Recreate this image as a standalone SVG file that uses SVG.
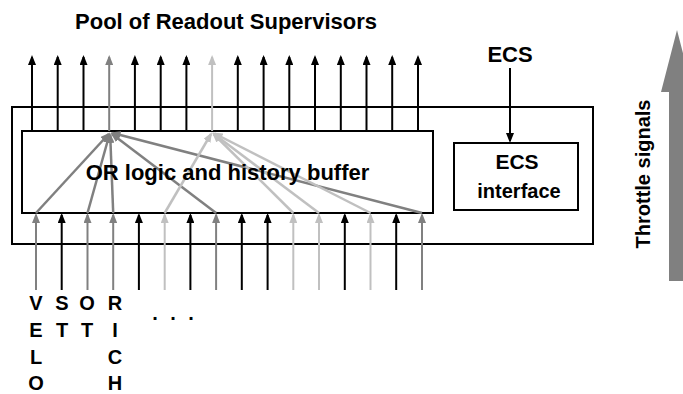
<svg xmlns="http://www.w3.org/2000/svg" width="683" height="394" viewBox="0 0 683 394">
<style>
.t{font-family:"Liberation Sans",Arial,sans-serif;font-weight:bold;fill:#000;}
.box{fill:#fff;stroke:#000;stroke-width:2;}
.k{stroke:#000;stroke-width:2;fill:none;}
.g{stroke:#808080;stroke-width:2.5;fill:none;}
.l{stroke:#c0c0c0;stroke-width:2.5;fill:none;}
.ka{marker-end:url(#ak);}
.ga{marker-end:url(#ag);}
.la{marker-end:url(#al);}
</style>
<defs>
<marker id="ak" markerUnits="userSpaceOnUse" markerWidth="10" markerHeight="8" refX="8" refY="4" orient="auto"><path d="M0,0 L10,4 L0,8 z" fill="#000"/></marker>
<marker id="ag" markerUnits="userSpaceOnUse" markerWidth="10" markerHeight="8" refX="8" refY="4" orient="auto"><path d="M0,0 L10,4 L0,8 z" fill="#808080"/></marker>
<marker id="al" markerUnits="userSpaceOnUse" markerWidth="10" markerHeight="8" refX="8" refY="4" orient="auto"><path d="M0,0 L10,4 L0,8 z" fill="#c0c0c0"/></marker>
</defs>
<rect width="683" height="394" fill="#fff"/>
<g id="title"><text class="t" x="226" y="29" font-size="22" text-anchor="middle">Pool of Readout Supervisors</text></g>
<g id="module"><rect class="box" x="12" y="107" width="581" height="137"/></g>
<g id="or-logic"><rect class="box" x="22" y="131" width="411" height="82"/></g>
<g id="ecs-interface"><rect class="box" x="454" y="143" width="124" height="67"/>
<text class="t" x="517" y="169" font-size="21" text-anchor="middle">ECS</text>
<text class="t" x="519" y="198" font-size="20" text-anchor="middle">interface</text></g>
<g id="ecs"><text class="t" x="510" y="62" font-size="22" text-anchor="middle">ECS</text></g>
<g id="connectors">
<g class="k ka">
<line x1="32" y1="131" x2="32" y2="57"/>
<line x1="57.7" y1="131" x2="57.7" y2="57"/>
<line x1="83.5" y1="131" x2="83.5" y2="57"/>
<line x1="134.9" y1="131" x2="134.9" y2="57"/>
<line x1="160.7" y1="131" x2="160.7" y2="57"/>
<line x1="186.4" y1="131" x2="186.4" y2="57"/>
<line x1="237.8" y1="131" x2="237.8" y2="57"/>
<line x1="263.6" y1="131" x2="263.6" y2="57"/>
<line x1="289.3" y1="131" x2="289.3" y2="57"/>
<line x1="315" y1="131" x2="315" y2="57"/>
<line x1="340.8" y1="131" x2="340.8" y2="57"/>
<line x1="366.5" y1="131" x2="366.5" y2="57"/>
<line x1="392.2" y1="131" x2="392.2" y2="57"/>
<line x1="418" y1="131" x2="418" y2="57"/>
<line x1="61.7" y1="290" x2="61.7" y2="215"/>
<line x1="138.9" y1="290" x2="138.9" y2="215"/>
<line x1="190.4" y1="290" x2="190.4" y2="215"/>
<line x1="241.8" y1="290" x2="241.8" y2="215"/>
<line x1="267.6" y1="290" x2="267.6" y2="215"/>
<line x1="344.8" y1="290" x2="344.8" y2="215"/>
<line x1="396.2" y1="290" x2="396.2" y2="215"/>
<line x1="510" y1="68" x2="510" y2="141"/>
</g>
<g class="g ga" style="stroke-width:2">
<line x1="109.2" y1="131" x2="109.2" y2="57"/>
<line x1="36" y1="290" x2="36" y2="215"/>
<line x1="87.5" y1="290" x2="87.5" y2="215"/>
<line x1="113.2" y1="290" x2="113.2" y2="215"/>
<line x1="216.1" y1="290" x2="216.1" y2="215"/>
<line x1="422" y1="290" x2="422" y2="215"/>
</g>
<g class="l la" style="stroke-width:2">
<line x1="212.1" y1="131" x2="212.1" y2="57"/>
<line x1="164.7" y1="290" x2="164.7" y2="215"/>
<line x1="293.3" y1="290" x2="293.3" y2="215"/>
<line x1="319" y1="290" x2="319" y2="215"/>
<line x1="370.5" y1="290" x2="370.5" y2="215"/>
</g>
<g class="g ga">
<line x1="36" y1="213" x2="108.7" y2="134"/>
<line x1="87.5" y1="213" x2="109.3" y2="135"/>
<line x1="113.2" y1="213" x2="110.2" y2="135"/>
<line x1="216.1" y1="213" x2="112" y2="134"/>
<line x1="422" y1="213" x2="112.5" y2="133"/>
</g>
<g class="l la">
<line x1="164.7" y1="213" x2="211" y2="134"/>
<line x1="293.3" y1="213" x2="213.5" y2="134"/>
<line x1="319" y1="213" x2="214" y2="134"/>
<line x1="370.5" y1="213" x2="214.5" y2="133.5"/>
</g>
</g>
<g id="or-label"><text class="t" x="227.5" y="180" font-size="22" text-anchor="middle">OR logic and history buffer</text></g>
<g id="inputs">
<text class="t" font-size="20" text-anchor="middle" x="36 36 36 36" y="310 337 364 390">VELO</text>
<text class="t" font-size="20" text-anchor="middle" x="62 62" y="310 337">ST</text>
<text class="t" font-size="20" text-anchor="middle" x="87 87" y="310 337">OT</text>
<text class="t" font-size="20" text-anchor="middle" x="115 115 115 115" y="310 337 364 390">RICH</text>
<text class="t" font-size="20" text-anchor="middle" x="155 173 191" y="320">...</text>
</g>
<g id="throttle">
<polygon points="669,281 669,92 661,92 677,30 693,92 685,92 685,281" fill="#808080"/>
<text class="t" font-size="20" text-anchor="middle" transform="translate(650,174) rotate(-90)">Throttle signals</text>
</g>
</svg>
